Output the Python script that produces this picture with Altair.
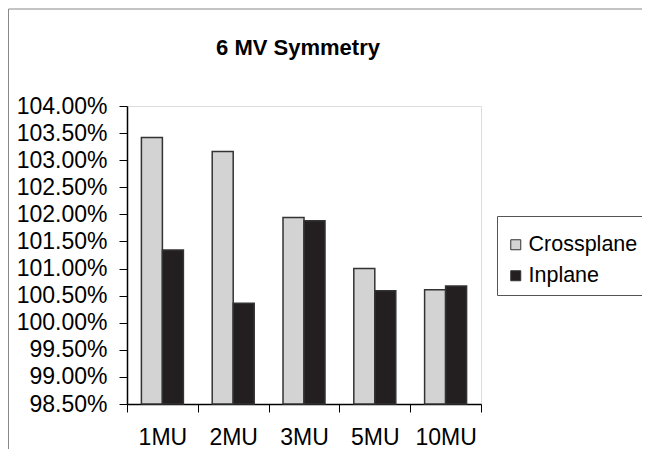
import altair as alt
import pandas as pd

categories = ["1MU", "2MU", "3MU", "5MU", "10MU"]
crossplane = [1.0342, 1.0316, 1.0194, 1.0100, 1.0061]
inplane = [1.0134, 1.0036, 1.0188, 1.0059, 1.0068]
series_names = ["Crossplane", "Inplane"]
y_ticks = [0.985, 0.99, 0.995, 1.0, 1.005, 1.01, 1.015, 1.02, 1.025, 1.03, 1.035, 1.04]

rows = []
for i, c in enumerate(categories):
    rows.append({"MU": c, "Series": series_names[0], "Value": crossplane[i]})
    rows.append({"MU": c, "Series": series_names[1], "Value": inplane[i]})
df = pd.DataFrame(rows)

FONT = "Liberation Sans"

bars = alt.Chart(df).mark_bar(stroke="#333333", strokeWidth=1.5).encode(
    x=alt.X("MU:N", sort=categories, title=None,
            scale=alt.Scale(paddingInner=0, paddingOuter=0),
            axis=alt.Axis(labelAngle=0, tickBand="extent", tickSize=8,
                          labelPadding=14, labelFontSize=23, labelFont=FONT,
                          labelColor="black", domainColor="black",
                          domainWidth=1.5, tickColor="black", tickWidth=1)),
    xOffset=alt.XOffset("Series:N", sort=series_names,
                        scale=alt.Scale(paddingInner=0, paddingOuter=0.686)),
    y=alt.Y("Value:Q", title=None,
            scale=alt.Scale(domain=[0.985, 1.04], zero=False, nice=False),
            axis=alt.Axis(values=y_ticks, format=".2%", tickSize=8,
                          labelPadding=12, labelFontSize=23, labelFont=FONT,
                          labelColor="black", domainColor="black",
                          domainWidth=1.5, tickColor="black", tickWidth=1,
                          grid=False)),
    y2=alt.datum(0.985),
    color=alt.Color("Series:N", sort=series_names,
                    scale=alt.Scale(domain=series_names,
                                    range=["#d3d3d3", "#231f20"]),
                    legend=alt.Legend(title=" ", titleFontSize=4,
                                      titlePadding=6, orient="none",
                                      legendX=370, legendY=110,
                                      symbolType="square", symbolSize=100,
                                      symbolStrokeColor="#333333",
                                      symbolStrokeWidth=1,
                                      labelFontSize=21.5, labelFont=FONT,
                                      labelColor="black", labelOffset=2,
                                      rowPadding=8, padding=8,
                                      strokeColor="#555555",
                                      fillColor="white")),
)

frame_df = pd.DataFrame({"k": [0]})
frame = alt.Chart(frame_df).mark_rect(
    fill="white", fillOpacity=0, stroke="#888888", strokeWidth=1
).encode(
    x=alt.value(-118.5), x2=alt.value(1000),
    y=alt.value(-97), y2=alt.value(1000),
)

chart = alt.layer(frame, bars).properties(
    width=354, height=298,
    autosize=alt.AutoSizeParams(type="none"),
    padding={"left": 119, "top": 98, "right": 161, "bottom": 45},
    title=alt.TitleParams("6 MV Symmetry", font=FONT, fontSize=22,
                          fontWeight="bold", color="black",
                          anchor="middle", frame="group", dx=-6, offset=-51),
).configure_view(stroke="#333333", strokeWidth=2).configure(background="white")

chart.save("out.html", embed_options={"renderer": "svg", "actions": False})
